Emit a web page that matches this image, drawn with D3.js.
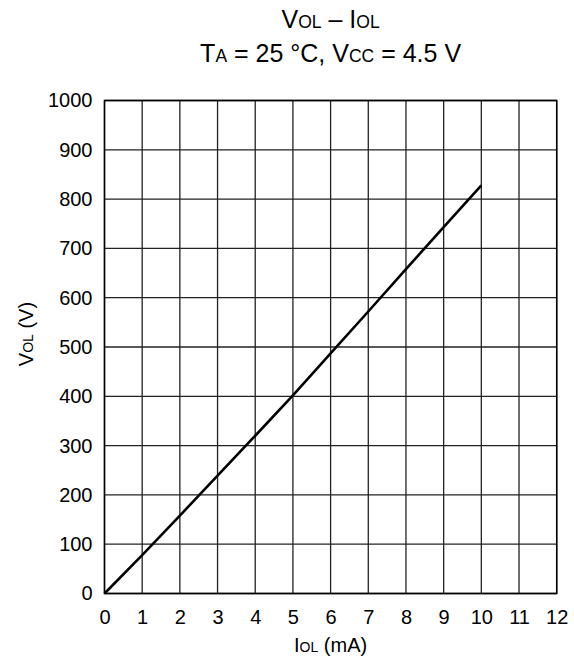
<!DOCTYPE html>
<html><head><meta charset="utf-8">
<script src="https://cdn.jsdelivr.net/npm/d3@7"></script>
<style>body{margin:0;background:#fff}svg{display:block}text{font-family:"Liberation Sans",Arial,sans-serif;fill:#000}</style>
</head><body><div id="chart"></div>
<script>
const xTicks = [0,1,2,3,4,5,6,7,8,9,10,11,12];
const yTicks = [0,100,200,300,400,500,600,700,800,900,1000];
const iolValues = [0,1,2,3,4,5,6,7,8,9,10];
const volValues = [0,78,158,239,320,402,487,572,658,743,828];

const W=574,H=659;
const m={left:104.5,right:574-556.7,top:100.5,bottom:659-593.5};
const svg=d3.select("#chart").append("svg").attr("width",W).attr("height",H);
const x=d3.scaleLinear().domain([0,12]).range([m.left,W-m.right]);
const y=d3.scaleLinear().domain([0,1000]).range([H-m.bottom,m.top]);

// grid
svg.append("g").selectAll("line").data(xTicks).join("line")
  .attr("x1",d=>x(d)).attr("x2",d=>x(d)).attr("y1",y(0)).attr("y2",y(1000))
  .attr("stroke","#222").attr("stroke-width",1.3);
svg.append("g").selectAll("line").data(yTicks).join("line")
  .attr("y1",d=>y(d)).attr("y2",d=>y(d)).attr("x1",x(0)).attr("x2",x(12))
  .attr("stroke","#222").attr("stroke-width",1.3);
svg.append("rect").attr("x",x(0)).attr("y",y(1000)).attr("width",x(12)-x(0)).attr("height",y(0)-y(1000))
  .attr("fill","none").attr("stroke","#000").attr("stroke-width",1.5);

// axes labels via d3 axes
const xa=svg.append("g").attr("transform",`translate(0,${y(0)})`)
  .call(d3.axisBottom(x).tickValues(xTicks).tickFormat(d3.format("d")).tickSize(0).tickPadding(16));
const ya=svg.append("g").attr("transform",`translate(${x(0)},0)`)
  .call(d3.axisLeft(y).tickValues(yTicks).tickFormat(d3.format("d")).tickSize(0).tickPadding(12));
[xa,ya].forEach(g=>{g.select(".domain").remove();g.selectAll("text").attr("font-size",20).attr("font-family","Liberation Sans, Arial, sans-serif").attr("fill","#000");});

// data line
const line=d3.line().x((d,i)=>x(iolValues[i])).y(d=>y(d));
svg.append("path").datum(volValues).attr("d",line).attr("fill","none").attr("stroke","#000").attr("stroke-width",2.6);

// titles
function sub(t,parts,fs){parts.forEach(p=>{const ts=t.append("tspan").text(p[0]);if(p[1])ts.attr("font-size",fs*0.7);});}
const cx=(x(0)+x(12))/2;
let t1=svg.append("text").attr("x",cx).attr("y",28).attr("text-anchor","middle").attr("font-size",25);
sub(t1,[["V"],["OL",1],[" \u2013 I"],["OL",1]],25);
let t2=svg.append("text").attr("x",cx).attr("y",62).attr("text-anchor","middle").attr("font-size",25);
sub(t2,[["T"],["A",1],[" = 25 \u00b0C, V"],["CC",1],[" = 4.5 V"]],25);
let xt=svg.append("text").attr("x",cx).attr("y",652).attr("text-anchor","middle").attr("font-size",20);
sub(xt,[["I"],["OL",1],[" (mA)"]],20);
let yt=svg.append("text").attr("transform",`translate(33,334) rotate(-90)`).attr("text-anchor","middle").attr("font-size",20);
sub(yt,[["V"],["OL",1],[" (V)"]],20);
</script></body></html>
